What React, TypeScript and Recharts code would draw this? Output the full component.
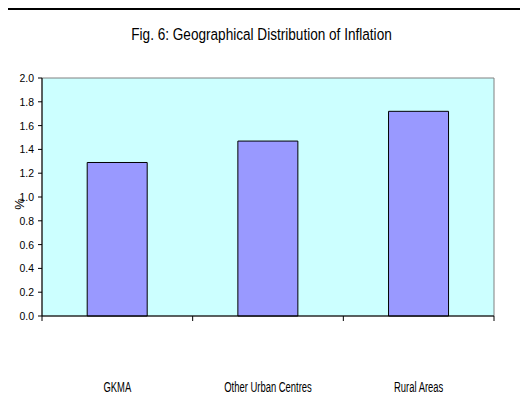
import { BarChart, Bar, XAxis, YAxis, CartesianGrid, ReferenceArea } from "recharts"

const categories = ["GKMA", "Other Urban Centres", "Rural Areas"]
const inflation = [1.29, 1.47, 1.72]
const yTicks = [0, 0.2, 0.4, 0.6, 0.8, 1.0, 1.2, 1.4, 1.6, 1.8, 2.0]
const title = "Fig. 6: Geographical Distribution of Inflation"

const data = categories.map((name, i) => ({ name, value: inflation[i] }))

const font = "'Liberation Sans', Arial, sans-serif"

function CategoryTick(props: any) {
  const { x, y, payload, index, width, visibleTicksCount } = props
  const half = width / visibleTicksCount / 2
  return (
    <g>
      {index === 0 && <line x1={x - half} x2={x - half} y1={y} y2={y + 5} stroke="#000" />}
      <line x1={x + half} x2={x + half} y1={y} y2={y + 5} stroke="#000" />
      <text transform={`translate(${x},${y + 76}) scale(0.63,1)`} textAnchor="middle" fontSize={15} fontFamily={font} fill="#000">
        {payload.value}
      </text>
    </g>
  )
}

function ValueTick(props: any) {
  const { x, y, payload } = props
  return (
    <text transform={`translate(${x},${y + 4}) scale(0.95,1)`} textAnchor="end" fontSize={11} fontFamily={font} fill="#000">
      {payload.value.toFixed(1)}
    </text>
  )
}

export default function App() {
  return (
    <div style={{ position: "relative", width: 512, height: 398 }}>
      <div style={{ position: "absolute", left: 0, top: 0 }}>
        <BarChart width={512} height={398} data={data} margin={{ top: 70, right: 26, left: 0, bottom: 0 }} barCategoryGap="30%">
          <CartesianGrid horizontal={false} vertical={false} fill="#CCFFFF" />
          <ReferenceArea y1={0} y2={2} fill="none" stroke="#808080" strokeWidth={1} />
          <XAxis dataKey="name" height={90} axisLine={{ stroke: "#000" }} tickLine={false} tickSize={0} tickMargin={0} tick={<CategoryTick />} interval={0} />
          <YAxis width={34} domain={[0, 2]} ticks={yTicks} axisLine={{ stroke: "#000" }} tickLine={{ stroke: "#000" }} tickSize={4} tickMargin={4} tick={<ValueTick />} />
          <Bar dataKey="value" fill="#9999FF" stroke="#000" strokeWidth={1} isAnimationActive={false} />
        </BarChart>
      </div>
      <svg width={525} height={398} style={{ position: "absolute", left: -5, top: 0, pointerEvents: "none" }}>
        <rect x={0} y={0} width={525} height={2} fill="#000" />
        <rect x={0} y={0} width={2} height={398} fill="#000" />
        <text transform="translate(258.5,32) scale(0.8,1)" textAnchor="middle" fontSize={17} fontFamily={font} fill="#000">
          {title}
        </text>
        <text transform="translate(21,196) rotate(-90)" textAnchor="middle" fontSize={13} fontFamily={font} fill="#000">
          %
        </text>
      </svg>
    </div>
  )
}
